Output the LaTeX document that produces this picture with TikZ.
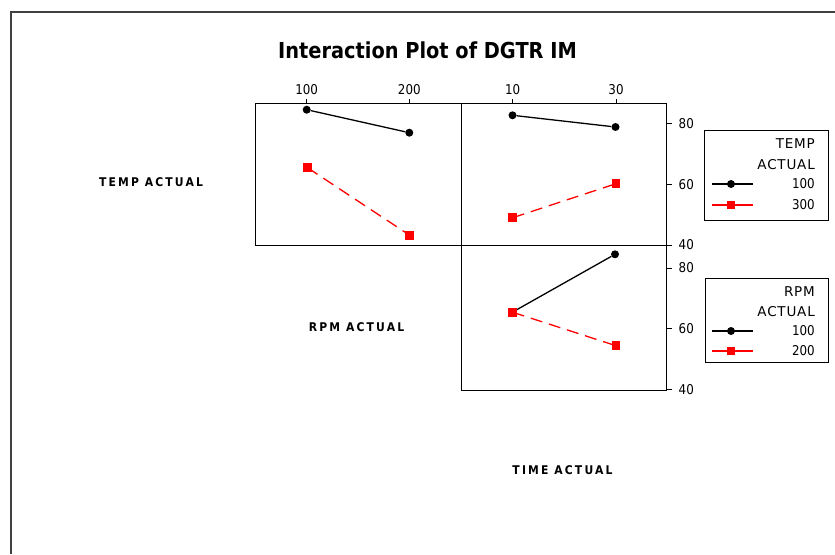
\documentclass[tikz,border=0pt]{standalone}
\usepackage{fontspec}
\setmainfont[FakeStretch=0.88]{DejaVu Sans}
\newfontfamily\wordfont[LetterSpace=6]{DejaVu Sans}
\newfontfamily\axfont[LetterSpace=18,FakeStretch=0.9]{DejaVu Sans}
\definecolor{framegray}{HTML}{404040}
\definecolor{pred}{HTML}{FF0000}
\tikzset{
  panel/.style={draw=black, line width=1.3pt},
  tickline/.style={draw=black, line width=1pt},
  ticklab/.style={font=\fontsize{13.5}{15}\selectfont, inner sep=0pt},
  dot/.style={circle, fill=black, inner sep=0pt, minimum size=8pt},
  sq/.style={rectangle, fill=pred, inner sep=0pt, minimum size=8.5pt},
  blackline/.style={draw=black, line width=1.3pt},
  redline/.style={draw=pred, line width=1.3pt, dash pattern=on 12pt off 7pt},
  axlab/.style={font=\axfont\bfseries\fontsize{12}{14}\selectfont, inner sep=0pt},
  legbox/.style={draw=black, line width=1pt},
  legtxt/.style={font=\wordfont\fontsize{13.5}{15}\selectfont, inner sep=0pt, anchor=east},
  legnum/.style={font=\fontsize{13.5}{15}\selectfont, inner sep=0pt, anchor=east},
}
\begin{document}
\begin{tikzpicture}[x=1pt,y=-1pt]
\useasboundingbox (0,0) rectangle (835,554);
% outer frame (open)
\draw[framegray, line width=2pt] (11,554) -- (11,12) -- (835,12);
% title
\node[font=\bfseries\fontsize{22}{26}\selectfont, inner sep=0pt] (title) at (427.5,50) {Interaction Plot of DGTR IM};
% panels
\draw[panel] (255.3,103.7) rectangle (461.7,245.7);
\draw[panel] (461.7,103.7) rectangle (666.7,245.7);
\draw[panel] (461.7,245.7) rectangle (666.7,390.7);
% top ticks
\foreach \x/\t in {306.7/100, 409.3/200, 512.7/10, 616/30}{
  \draw[tickline] (\x,103.7) -- (\x,98.5);
  \node[ticklab] at (\x,89.5) {\t};
}
% right ticks
\foreach \y/\t in {123.7/80, 184.3/60, 245/40, 268/80, 328.3/60, 389.3/40}{
  \draw[tickline] (666.7,\y) -- (672,\y);
  \node[ticklab, anchor=west] at (678.5,\y) {\t};
}
% data points
\node[dot] (a1) at (306.7,109.7) {};
\node[dot] (a2) at (409.3,132.7) {};
\node[dot] (c1) at (512.5,115.3) {};
\node[dot] (c2) at (615.5,127) {};
\node[dot] (e1) at (512.7,312) {};
\node[dot] (e2) at (615,254.3) {};
\coordinate (b1) at (307.5,167.7);
\coordinate (b2) at (409.7,235.3);
\coordinate (d1) at (512.7,217.7);
\coordinate (d2) at (616,183.7);
\coordinate (f1) at (512.7,312.3);
\coordinate (f2) at (616,345.7);
\draw[blackline] (a1) -- (a2);
\draw[blackline] (c1) -- (c2);
\draw[blackline] (e1) -- (e2);
\draw[redline] (b1) -- (b2);
\draw[redline] (d1) -- (d2);
\draw[redline] (f1) -- (f2);
\foreach \p in {b1,b2,d1,d2,f1,f2}{ \node[sq] (s\p) at (\p) {}; }
% axis labels
\node[axlab] (lt) at (151,182) {TEMP ACTUAL};
\node[axlab] (lr) at (356.5,327) {RPM ACTUAL};
\node[axlab] (ltm) at (562.5,470) {TIME ACTUAL};
% legend 1
\draw[legbox] (704.3,130.7) rectangle (828.3,220.7);
\node[legtxt] (l1a) at (815,144) {TEMP};
\node[legtxt] (l1b) at (815,164.3) {ACTUAL};
\node[legnum] (l1c) at (815,184) {100};
\node[legnum] (l1d) at (815,205) {300};
\coordinate (l1s1) at (712,184); \coordinate (l1e1) at (753,184);
\coordinate (l1s2) at (712,205); \coordinate (l1e2) at (753,205);
\draw[draw=black, line width=1.3pt] (l1s1) -- (l1e1);
\draw[draw=pred, line width=1.3pt] (l1s2) -- (l1e2);
\node[dot] (l1m1) at (731,184) {};
\node[sq] (l1m2) at (731,205) {};
% legend 2
\draw[legbox] (705,278.3) rectangle (828.3,362.7);
\node[legtxt] (l2a) at (815,291.7) {RPM};
\node[legtxt] (l2b) at (815,311.7) {ACTUAL};
\node[legnum] (l2c) at (815,331) {100};
\node[legnum] (l2d) at (815,351) {200};
\coordinate (l2s1) at (712,331); \coordinate (l2e1) at (753,331);
\coordinate (l2s2) at (712,351); \coordinate (l2e2) at (753,351);
\draw[draw=black, line width=1.3pt] (l2s1) -- (l2e1);
\draw[draw=pred, line width=1.3pt] (l2s2) -- (l2e2);
\node[dot] (l2m1) at (731,331) {};
\node[sq] (l2m2) at (731,351) {};
\end{tikzpicture}
\end{document}
